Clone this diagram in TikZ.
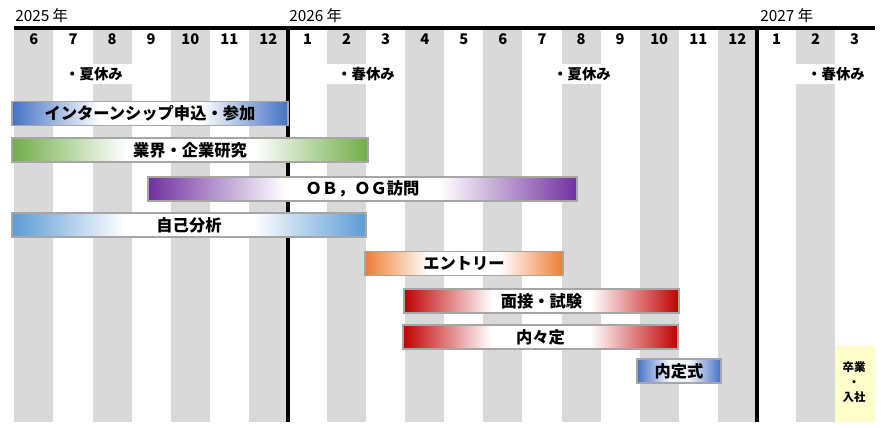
\documentclass[tikz,border=0pt]{standalone}
\usepackage{fontspec}
\setmainfont{Noto Sans CJK JP}
\definecolor{cGray}{HTML}{D9D9D9}
\definecolor{cLine}{HTML}{A6A6A6}
\definecolor{cBlue}{HTML}{4472C4}
\definecolor{cGreen}{HTML}{70AD47}
\definecolor{cPurple}{HTML}{7030A0}
\definecolor{cSky}{HTML}{5B9BD5}
\definecolor{cOrange}{HTML}{ED7D31}
\definecolor{cRed}{HTML}{C00000}
\definecolor{cYellow}{HTML}{FFFFCC}
\pgfdeclarehorizontalshading{shBlue}{100bp}{color(0bp)=(cBlue); color(25bp)=(cBlue); color(41bp)=(white); color(59bp)=(white); color(75bp)=(cBlue); color(100bp)=(cBlue)}
\pgfdeclarehorizontalshading{shGreen}{100bp}{color(0bp)=(cGreen); color(25bp)=(cGreen); color(41bp)=(white); color(59bp)=(white); color(75bp)=(cGreen); color(100bp)=(cGreen)}
\pgfdeclarehorizontalshading{shPurple}{100bp}{color(0bp)=(cPurple); color(25bp)=(cPurple); color(41bp)=(white); color(59bp)=(white); color(75bp)=(cPurple); color(100bp)=(cPurple)}
\pgfdeclarehorizontalshading{shSky}{100bp}{color(0bp)=(cSky); color(25bp)=(cSky); color(41bp)=(white); color(59bp)=(white); color(75bp)=(cSky); color(100bp)=(cSky)}
\pgfdeclarehorizontalshading{shOrange}{100bp}{color(0bp)=(cOrange); color(25bp)=(cOrange); color(41bp)=(white); color(59bp)=(white); color(75bp)=(cOrange); color(100bp)=(cOrange)}
\pgfdeclarehorizontalshading{shRed}{100bp}{color(0bp)=(cRed); color(25bp)=(cRed); color(41bp)=(white); color(59bp)=(white); color(75bp)=(cRed); color(100bp)=(cRed)}
\pgfdeclarehorizontalshading{shBlueSmall}{100bp}{color(0bp)=(cBlue); color(25bp)=(cBlue); color(44bp)=(cBlue!8); color(56bp)=(cBlue!8); color(75bp)=(cBlue); color(100bp)=(cBlue)}
\tikzset{
  yearlbl/.style={inner sep=0pt, anchor=base west, font=\fontsize{11.5}{13}\selectfont},
  monthlbl/.style={inner sep=0pt, font=\fontsize{11}{13}\selectfont\bfseries},
  holilbl/.style={inner sep=0pt, font=\fontsize{10.8}{13}\selectfont\bfseries},
  heavyline/.style={line width=3pt, black},
  ganttbar/.style={draw=cLine, line width=0.8pt, inner sep=0pt, text=black,
    font=\fontsize{12.2}{14}\selectfont\bfseries},
  shadebar/.style={shading=#1},
  barsize/.style 2 args={minimum width={#1*0.75pt}, minimum height={#2*0.75pt}},
  smalllbl/.style={inner sep=0pt, align=center,
    font=\fontsize{8.6}{11.2}\selectfont\bfseries}
}
\begin{document}
\begin{tikzpicture}[x=0.75pt,y=-0.75pt]
\useasboundingbox (0,0) rectangle (881,428);
\fill[white] (0,0) rectangle (881,428);
% grey month columns
\foreach \i in {0,2,...,20}{
  \fill[cGray] ({14.4+\i*39.08},30) rectangle ({14.4+(\i+1)*39.08},422);
}
% white bands behind holiday labels
\foreach \i in {2,8,14,20}{
  \fill[white] ({14.4+\i*39.08},64) rectangle ({14.4+(\i+1)*39.08},84);
}
% graduation box
\node[fill=cYellow, inner sep=0pt, barsize={40}{76}] (gradbox) at (855,384) {};
\node[smalllbl] (gradtxt) at (854,382) {卒業\\・\\入社};
% heavy lines
\coordinate (topL) at (14,28);
\coordinate (topR) at (875,28);
\coordinate (v26t) at (288,26.5);
\coordinate (v26b) at (288,422);
\coordinate (v27t) at (757,26.5);
\coordinate (v27b) at (757,422);
\draw[heavyline] (topL) -- (topR);
\draw[heavyline] (v26t) -- (v26b);
\draw[heavyline] (v27t) -- (v27b);
% years
\node[yearlbl] (y2025) at (15,22) {2025 年};
\node[yearlbl] (y2026) at (289,22) {2026 年};
\node[yearlbl] (y2027) at (760,22) {2027 年};
% months
\foreach \m [count=\k from 0] in {6,7,8,9,10,11,12,1,2,3,4,5,6,7,8,9,10,11,12,1,2,3}{
  \node[monthlbl] (m\k) at ({14.4+(\k+0.5)*39.08},39) {\m};
}
% holidays
\node[holilbl] (sum25) at (94,74.5) {・夏休み};
\node[holilbl] (spr26) at (366,74.5) {・春休み};
\node[holilbl] (sum26) at (582,74.5) {・夏休み};
\node[holilbl] (spr27) at (836,74.5) {・春休み};
% bars
\node[ganttbar, shadebar=shBlue, barsize={276}{24}] (intern) at (150,113.5) {インターンシップ申込・参加};
\node[ganttbar, shadebar=shGreen, barsize={356}{24}] (industry) at (190,150) {業界・企業研究};
\node[ganttbar, shadebar=shPurple, barsize={429}{24}] (obog) at (362.5,189) {ＯＢ，ＯＧ訪問};
\node[ganttbar, shadebar=shSky, barsize={354}{24}] (self) at (189,225) {自己分析};
\node[ganttbar, shadebar=shOrange, barsize={198}{24}] (entry) at (464,263.5) {エントリー};
\node[ganttbar, shadebar=shRed, barsize={275}{24}] (interview) at (541.5,301) {面接・試験};
\node[ganttbar, shadebar=shRed, barsize={275}{24}] (naina) at (540.5,337) {内々定};
\node[ganttbar, shadebar=shBlueSmall, barsize={84}{24}] (ceremony) at (679,371) {内定式};
\end{tikzpicture}
\end{document}
